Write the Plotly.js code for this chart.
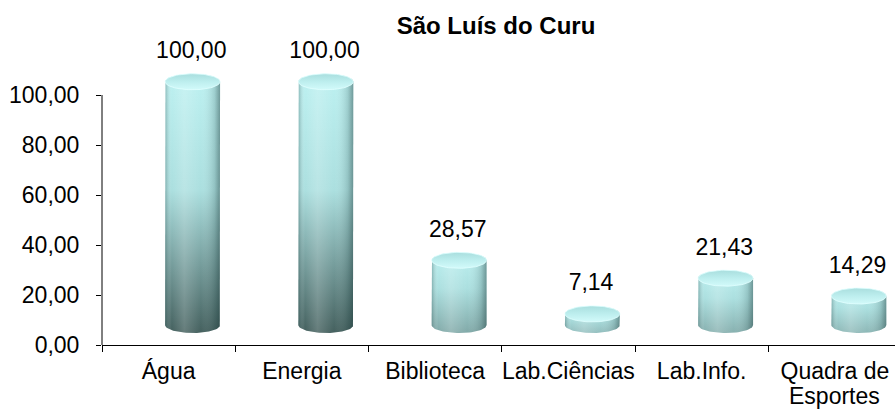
<!DOCTYPE html>
<html>
<head>
<meta charset="utf-8">
<script src="https://cdn.plot.ly/plotly-3.0.1.min.js"></script>
<style>html,body{margin:0;padding:0;background:#fff;}#chart{width:895px;height:409px;}</style>
</head>
<body>
<div id="chart"></div>
<script>
// ---- data ----
const categories = ['Água', 'Energia', 'Biblioteca', 'Lab.Ciências', 'Lab.Info.', 'Quadra de|Esportes'];
const values = [100.00, 100.00, 28.57, 7.14, 21.43, 14.29];
const yTickVals = [0, 20, 40, 60, 80, 100];
const chartTitle = 'São Luís do Curu';

// ---- styling / geometry (3D cylinder look) ----
const DX = 0.18;      // depth shift to the right (category units)
const RX = 0.206;     // cylinder half-width (category units)
const RY = 3.2;       // ellipse half-height (value units)
const BASE = 8.0;     // bottom ellipse centre (value units, depth lift)
const TOPOFF = 5.3;   // top ellipse centre = value + TOPOFF
const FONT = 'Liberation Sans, Arial, sans-serif';

function hex2rgb(h){h=h.replace('#','');return [0,2,4].map(i=>parseInt(h.substr(i,2),16));}
function mix(a,b,t){const A=hex2rgb(a),B=hex2rgb(b);return 'rgb('+A.map((v,i)=>Math.round(v+(B[i]-v)*t)).join(',')+')';}

const LIGHT = '#bdf1f1', MID = '#9fd3d3', DARK = '#44605e';

const traces = [];
values.forEach((v, i) => {
  const cx = i + DX, yb = BASE, yt = v + TOPOFF;
  const N = 40;
  // body outline
  const bx = [cx - RX, cx - RX], by = [yb, yt];
  for (let k = 0; k <= N; k++) { const a = Math.PI - Math.PI * k / N; bx.push(cx + RX * Math.cos(a)); by.push(yt + RY * Math.sin(a)); }
  bx.push(cx + RX); by.push(yb);
  for (let k = 0; k <= N; k++) { const a = -Math.PI * k / N; bx.push(cx + RX * Math.cos(a)); by.push(yb + RY * Math.sin(a)); }
  const f = 0.3 + 0.7 * (v / 100);
  const bottomCol = mix(LIGHT, DARK, f);
  const midCol = mix(LIGHT, MID, 0.6);
  traces.push({
    type: 'scatter', mode: 'lines', x: bx, y: by, fill: 'toself',
    line: {width: 0, color: 'rgba(0,0,0,0)'}, hoverinfo: 'skip', showlegend: false,
    fillgradient: {type: 'vertical', colorscale: [[0, bottomCol], [0.55, midCol], [1, LIGHT]]}
  });
  // horizontal shading overlay
  traces.push({
    type: 'scatter', mode: 'lines', x: bx, y: by, fill: 'toself',
    line: {width: 0, color: 'rgba(0,0,0,0)'}, hoverinfo: 'skip', showlegend: false,
    fillgradient: {type: 'horizontal', colorscale: [
      [0, 'rgba(40,80,80,0.35)'], [0.12, 'rgba(255,255,255,0.0)'], [0.35, 'rgba(255,255,255,0.18)'],
      [0.65, 'rgba(255,255,255,0.0)'], [0.9, 'rgba(30,60,60,0.18)'], [1, 'rgba(20,50,50,0.45)']]}
  });
  // top ellipse
  const tx = [], ty = [];
  for (let k = 0; k <= 2 * N; k++) { const a = 2 * Math.PI * k / (2 * N); tx.push(cx + RX * Math.cos(a)); ty.push(yt + RY * Math.sin(a)); }
  traces.push({
    type: 'scatter', mode: 'lines', x: tx, y: ty, fill: 'toself',
    line: {width: 1, color: 'rgba(225,255,255,0.8)'}, hoverinfo: 'skip', showlegend: false,
    fillgradient: {type: 'vertical', colorscale: [[0, '#d2fafa'], [0.5, '#bdeeee'], [1, '#a9dede']]}
  });
});

// data labels
traces.push({
  type: 'scatter', mode: 'text',
  x: values.map((v, i) => i + 0.17),
  y: values.map(v => v + 17.0),
  text: values.map(v => v.toFixed(2).replace('.', ',')),
  textposition: 'middle center',
  textfont: {family: FONT, size: 23, color: '#000'},
  cliponaxis: false, hoverinfo: 'skip', showlegend: false
});

// category labels: first line as tick text, wrapped second line set tighter as annotation
const firstLines = categories.map(c => c.split('|')[0]);
const secondLines = categories.map(c => c.split('|')[1] || '');
const wrapAnnotations = [];
secondLines.forEach((s, i) => {
  if (s) wrapAnnotations.push({
    text: s, xref: 'x', x: i, yref: 'paper', y: -64 / 300, xanchor: 'center', yanchor: 'bottom',
    showarrow: false, font: {family: FONT, size: 23, color: '#000'}, borderpad: 0, yshift: -1
  });
});

const layout = {
  width: 895, height: 409,
  margin: {l: 102, r: 0, t: 45, b: 64, pad: 0},
  paper_bgcolor: '#fff', plot_bgcolor: '#fff',
  separators: ',.',
  font: {family: FONT, size: 23, color: '#000'},
  title: {text: '<b>' + chartTitle + '</b>', font: {family: FONT, size: 24, color: '#000'},
          x: 496 / 895, xanchor: 'center', xref: 'container', y: 1 - 26 / 409, yanchor: 'middle', yref: 'container'},
  xaxis: {
    range: [-0.5, -0.5 + 793 / 133.25], tickmode: 'array', tickvals: categories.map((c, i) => i), ticktext: firstLines,
    ticks: '', showgrid: false, zeroline: false, showline: true, linecolor: '#000', linewidth: 1,
    tickfont: {family: FONT, size: 23, color: '#000'}, ticklabelstandoff: 5, fixedrange: true,
    minor: {tickmode: 'array', tickvals: categories.map((c, i) => i - 0.5).concat([categories.length - 0.5]), ticks: 'outside', ticklen: 6, tickcolor: '#000', tickwidth: 1, showgrid: false}
  },
  yaxis: {
    range: [0, 120], tickmode: 'array', tickvals: yTickVals, tickformat: '.2f',
    ticks: 'outside', ticklen: 5, tickcolor: '#000', tickwidth: 1,
    showgrid: false, zeroline: false, showline: false,
    tickfont: {family: FONT, size: 23, color: '#000'}, ticklabelstandoff: 12, fixedrange: true
  },
  annotations: wrapAnnotations,
  shapes: [{type: 'line', xref: 'paper', x0: 0, x1: 0, yref: 'y', y0: 0, y1: yTickVals[yTickVals.length - 1], line: {color: '#000', width: 1}}]
};

Plotly.newPlot('chart', traces, layout, {displayModeBar: false, staticPlot: true});
</script>
</body>
</html>
